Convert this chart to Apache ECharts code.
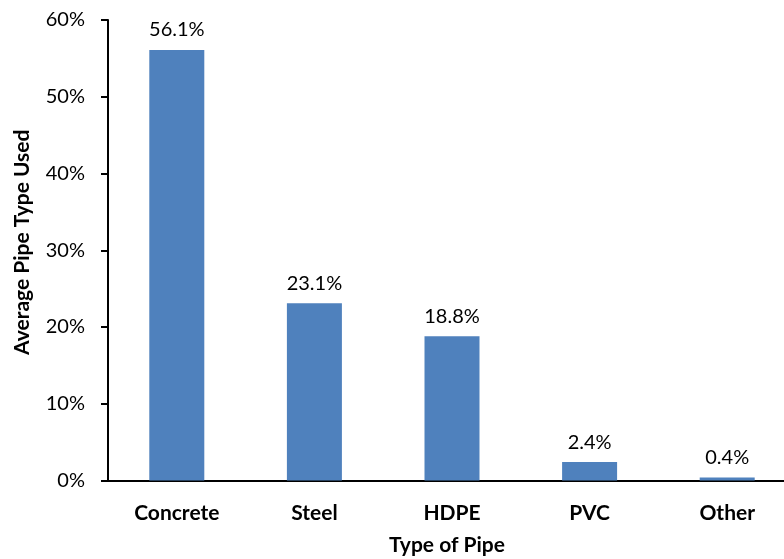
<!DOCTYPE html>
<html>
<head>
<meta charset="utf-8">
<script src="https://cdn.jsdelivr.net/npm/echarts@6/dist/echarts.min.js"></script>
<style>
  html, body { margin: 0; padding: 0; background: #fff; }
  #chart { width: 784px; height: 559px; }
</style>
</head>
<body>
<div id="chart"></div>
<script>
// Share of each pipe type used, in percent
const categories = ['Concrete', 'Steel', 'HDPE', 'PVC', 'Other'];
const shares = [56.1, 23.1, 18.8, 2.4, 0.4];
const yTicks = [0, 10, 20, 30, 40, 50, 60];

const font = 'Lato, "Open Sans", sans-serif';
const chart = echarts.init(document.getElementById('chart'));

chart.setOption({
  animation: false,
  backgroundColor: '#ffffff',
  grid: { left: 108, right: -12, top: 20, bottom: 78.5, containLabel: false, outerBoundsMode: 'none' },
  xAxis: {
    type: 'category',
    data: categories,
    name: 'Type of Pipe',
    nameLocation: 'middle',
    nameGap: 54,
    nameTextStyle: { fontFamily: font, fontWeight: 'bold', fontSize: 21, color: '#000', padding: [0, 10, 0, 0] },
    axisLine: { lineStyle: { color: '#000', width: 2 } },
    axisTick: { show: false },
    axisLabel: { fontFamily: font, fontWeight: 'bold', fontSize: 21, color: '#000', margin: 22 }
  },
  yAxis: {
    type: 'value',
    min: yTicks[0],
    max: yTicks[yTicks.length - 1],
    interval: 10,
    name: 'Average Pipe Type Used',
    nameLocation: 'middle',
    nameGap: 75,
    nameTextStyle: { fontFamily: font, fontWeight: 'bold', fontSize: 21, color: '#000', padding: [0, 0, 0, 16] },
    axisLine: { show: true, lineStyle: { color: '#000', width: 2 } },
    axisTick: { show: true, length: 7, lineStyle: { color: '#000', width: 2 } },
    splitLine: { show: false },
    axisLabel: { fontFamily: font, fontSize: 20, color: '#000', margin: 23, formatter: v => v + '%' }
  },
  series: [{
    type: 'bar',
    data: shares,
    barWidth: 55,
    itemStyle: { color: '#4F81BD' },
    label: {
      show: true,
      position: 'top',
      distance: 10,
      fontFamily: font,
      fontSize: 20,
      color: '#000',
      formatter: p => p.value.toFixed(1) + '%'
    }
  }]
});
</script>
</body>
</html>
